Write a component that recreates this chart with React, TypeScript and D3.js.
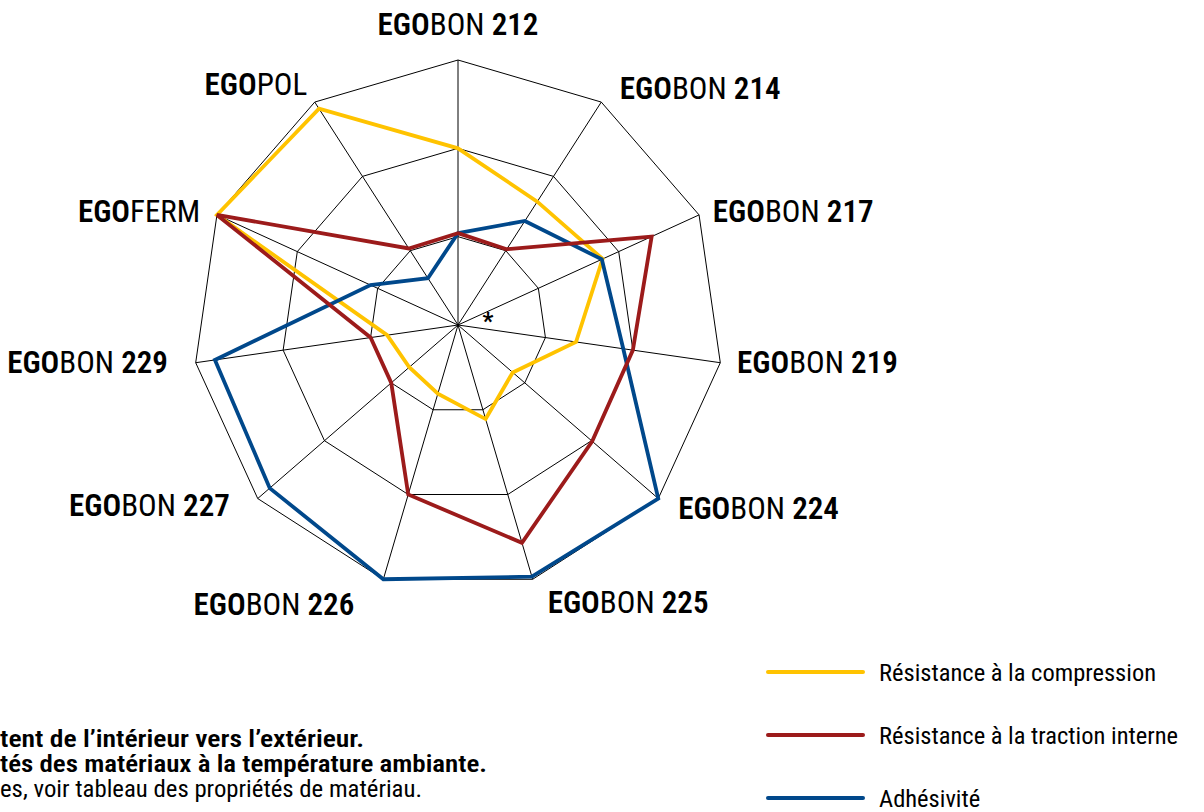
import { useEffect, useRef } from 'react';
import * as d3 from 'd3';

// axes, clockwise from the top
const axisNames = [
  '212', '214', '217', '219', '224', '225', '226', '227', '229', 'FERM', 'POL',
];

// values on a 0–3 scale (rings at 1, 2, 3)
const compression = [2.0, 1.66, 1.8, 1.35, 0.82, 1.11, 0.81, 0.73, 0.81, 3.0, 2.91];
const traction = [1.04, 1.02, 2.41, 2.0, 2.01, 2.57, 2.0, 1.0, 1.0, 3.0, 1.03];
const adhesivite = [1.04, 1.4, 1.79, 1.89, 3.0, 2.97, 3.0, 2.82, 2.78, 1.09, 0.63];

const ringLevels = [1, 2, 3];

const seriesNames = [
  'Résistance à la compression',
  'Résistance à la traction interne',
  'Adhésivité',
];

// only the part of each note that shows on the page
const notes = [
  'tent de l\u2019intérieur vers l\u2019extérieur.',
  'tés des matériaux à la température ambiante.',
  'es, voir tableau des propriétés de matériau.',
];

const FONT = '"Liberation Sans Narrow", "Roboto Condensed", "DejaVu Sans Condensed", Roboto, sans-serif';

interface RadarProps {
  width?: number;
  height?: number;
}

const Radar = ({ width = 1204, height = 812 }: RadarProps) => {
  const svgRef = useRef<SVGSVGElement>(null);

  useEffect(() => {
    if (!svgRef.current) return;
    const svg = d3.select(svgRef.current);
    svg.selectAll('*').remove();

    const cx = 458;
    const cy = 325;
    const R = 265;
    const n = axisNames.length;

    const angle = d3.scaleLinear().domain([0, n]).range([0, 2 * Math.PI]);
    const radius = d3.scaleLinear().domain([0, 3]).range([0, R]);

    const g = svg.append('g').attr('transform', `translate(${cx},${cy})`);

    const pt = (i: number, v: number): [number, number] => [
      radius(v) * Math.sin(angle(i)),
      -radius(v) * Math.cos(angle(i)),
    ];

    // rings
    ringLevels.forEach(level => {
      const path = d3.line<number>()
        .x((_, i) => pt(i, level)[0])
        .y((_, i) => pt(i, level)[1])
        .curve(d3.curveLinearClosed);
      g.append('path')
        .attr('d', path(axisNames.map(() => level)) || '')
        .attr('fill', 'none')
        .attr('stroke', '#000')
        .attr('stroke-width', 1);
    });

    // spokes
    g.selectAll('.spoke')
      .data(axisNames)
      .join('line')
      .attr('class', 'spoke')
      .attr('x1', 0)
      .attr('y1', 0)
      .attr('x2', (_, i) => pt(i, 3)[0])
      .attr('y2', (_, i) => pt(i, 3)[1])
      .attr('stroke', '#000')
      .attr('stroke-width', 1);

    // series
    const series = [
      { name: seriesNames[0], values: compression, color: '#FFC300' },
      { name: seriesNames[2], values: adhesivite, color: '#00488B' },
      { name: seriesNames[1], values: traction, color: '#9C1B1B' },
    ];

    series.forEach(s => {
      const line = d3.line<number>()
        .x((d, i) => pt(i, d)[0])
        .y((d, i) => pt(i, d)[1])
        .curve(d3.curveLinearClosed);
      g.append('path')
        .attr('d', line(s.values) || '')
        .attr('fill', 'none')
        .attr('stroke', s.color)
        .attr('stroke-width', 3.8)
        .attr('stroke-linejoin', 'miter');
    });

    // asterisk
    g.append('text')
      .attr('x', 30)
      .attr('y', 4)
      .attr('text-anchor', 'middle')
      .style('font-family', FONT)
      .style('font-size', '24px')
      .style('font-weight', 'bold')
      .text('*');

    // axis labels
    const nudge: Record<string, [number, number]> = {
      '212': [0, -11],
      '214': [5, 7],
      '217': [-9, 6],
      '219': [-8, -4],
      '224': [1, -7],
      '225': [8, -1],
      '226': [-22, 1],
      '227': [-9, -10],
      '229': [-3, -4],
      'FERM': [6, 6],
      'POL': [6, 3],
    };

    axisNames.forEach((name, i) => {
      const a = angle(i);
      const [x, y] = pt(i, 3 + 25 / (R / 3));
      const s = Math.sin(a);
      const anchor = s > 0.1 ? 'start' : s < -0.1 ? 'end' : 'middle';
      const [dx, dy] = nudge[name] || [0, 0];
      const t = g.append('text')
        .attr('x', x + dx)
        .attr('y', y + dy)
        .attr('text-anchor', anchor)
        .attr('dominant-baseline', 'central')
        .style('font-family', FONT)
        .style('font-size', '31px')
        .style('fill', '#000');
      const isBon = /^\d/.test(name);
      t.append('tspan').style('font-weight', 600).text('EGO');
      if (isBon) {
        t.append('tspan').text('BON ');
        t.append('tspan').style('font-weight', 600).text(name);
      } else {
        t.append('tspan').text(name);
      }
    });

    // legend
    const legendColors = ['#FFC300', '#9C1B1B', '#00488B'];
    const legendY = d3.scalePoint<string>().domain(seriesNames).range([672, 798]);
    const legend = svg.append('g');
    seriesNames.forEach((name, i) => {
      const y = legendY(name) || 0;
      legend.append('line')
        .attr('x1', 768)
        .attr('x2', 863)
        .attr('y1', y)
        .attr('y2', y)
        .attr('stroke', legendColors[i])
        .attr('stroke-width', 4)
        .attr('stroke-linecap', 'round');
      legend.append('text')
        .attr('x', 879)
        .attr('y', y)
        .attr('dominant-baseline', 'central')
        .style('font-family', FONT)
        .style('font-size', '24.5px')
        .style('fill', '#000')
        .text(name);
    });

    // notes, at the left edge (stretched to the reference widths)
    const noteWidths = [364, 487, 422];
    notes.forEach((note, i) => {
      svg.append('text')
        .attr('x', 0)
        .attr('y', 747 + i * 25)
        .attr('textLength', noteWidths[i])
        .attr('lengthAdjust', 'spacingAndGlyphs')
        .style('font-family', FONT)
        .style('font-size', '23px')
        .style('font-weight', i < 2 ? 600 : 'normal')
        .style('fill', '#000')
        .text(note);
    });
  }, [width, height]);

  return (
    <svg
      ref={svgRef}
      width={width}
      height={height}
      style={{ position: 'absolute', left: 0, top: 0, background: '#fff' }}
    />
  );
};

export default function App() {
  return <Radar />;
}
